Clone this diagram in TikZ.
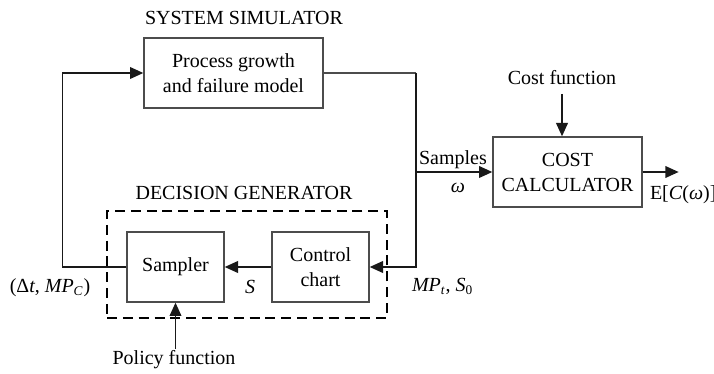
\documentclass[tikz,border=0pt]{standalone}
\usepackage{fontspec}
\setmainfont{Liberation Serif}
\usetikzlibrary{arrows.meta, positioning, fit, calc}

\begin{document}
\begin{tikzpicture}[
    x=0.6pt, y=-0.6pt,
    block/.style={draw=black!70, line width=0.8pt, minimum height=42pt, font=\fontsize{12}{15}\selectfont, align=center, inner sep=2pt},
    txt/.style={font=\fontsize{12}{15}\selectfont, inner sep=1pt},
    arrow/.style={-{Triangle[length=8pt,width=7pt]}, draw=black!90, line width=1pt},
    wire/.style={draw=black!70, line width=0.8pt},
]
    \useasboundingbox (0,0) rectangle (714,374);

    % simulator
    \node[txt] (simtitle) at (244,18) {SYSTEM SIMULATOR};
    \node[block, minimum width=107.4pt] (proc) at (233.5,73) {Process growth\\and failure model};

    % cost side
    \node[txt] (costfn) at (562,78) {Cost function};
    \node[block, minimum width=89.4pt] (cost) at (567.5,172) {COST\\CALCULATOR};

    % decision generator
    \node[txt] (dgtitle) at (244,193) {DECISION GENERATOR};
    \node[draw, dashed, dash pattern=on 6pt off 3.5pt, line width=1.2pt, minimum width=168pt, minimum height=64.2pt] (dg) at (247,264.5) {};
    \node[block, minimum width=58.2pt] (samp) at (175.5,267) {Sampler};
    \node[block, minimum width=58.2pt] (ctrl) at (320.5,267) {Control\\chart};
    \node[txt] (policy) at (174,360) {Policy function};

    % connectors
    \draw[wire] (proc.east) -- ++(92,0) coordinate (rc);
    \draw[arrow] (rc) |- (ctrl.east);
    \draw[arrow] (rc |- cost.west) -- (cost.west);
    \draw[arrow] (ctrl.west) -- (samp.east);
    \draw[arrow] (samp.west) -- ++(-64,0) coordinate (lc) |- (proc.west);
    \draw[arrow] ([yshift=-4pt]costfn.south) -- (costfn.south |- cost.north);
    \draw[arrow] (samp.south |- policy.north) -- (samp.south);
    \draw[arrow] (cost.east) -- ++(36,0) coordinate (out);

    % labels
    \node[txt] (samples) at (453,160) {Samples};
    \node[txt] (omega) at (458,188) {\textit{ω}};
    \node[txt, anchor=west] (expc) at (648,195) {E[\textit{C}(\textit{ω})]};
    \node[txt] (sig) at (250,287) {\textit{S}};
    \node[txt] (dtmp) at (50,288) {(Δ\textit{t}, \textit{MP}\textsubscript{\textit{C}})};
    \node[txt, anchor=west] (mpt) at (410,286) {\textit{MP}\textsubscript{\textit{t}}, \textit{S}\textsubscript{0}};
\end{tikzpicture}
\end{document}
